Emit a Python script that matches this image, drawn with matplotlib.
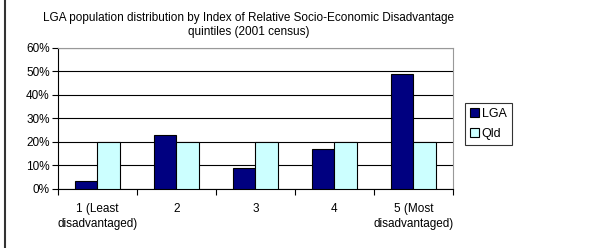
import numpy as np
import matplotlib.pyplot as plt
from matplotlib.lines import Line2D
from matplotlib.ticker import PercentFormatter

plt.rcParams['font.family'] = ['Liberation Sans', 'DejaVu Sans']

# data
categories = ['1 (Least\ndisadvantaged)', '2', '3', '4', '5 (Most\ndisadvantaged)']
lga = [3.2, 23.0, 8.7, 17.0, 49.0]
qld = [20.0, 20.0, 20.0, 20.0, 20.0]

fig = plt.figure(figsize=(6.04, 2.48), dpi=100)
ax = fig.add_axes([0.096, 0.238, 0.654, 0.570])

x = np.arange(len(categories))
w = 0.29
ax.bar(x - w / 2, lga, w, color='#000080', edgecolor='black', linewidth=0.8, label='LGA', zorder=3)
ax.bar(x + w / 2, qld, w, color='#ccffff', edgecolor='black', linewidth=0.8, label='Qld', zorder=3)

ax.set_xlim(-0.5, len(categories) - 0.5)
ax.set_ylim(0, 60)
ax.set_yticks(range(0, 61, 10))
ax.yaxis.set_major_formatter(PercentFormatter(decimals=0))
ax.grid(axis='y', color='black', linewidth=0.8, zorder=0)

ax.set_xticks(x)
ax.set_xticklabels(categories, fontsize=8.5, linespacing=1.35)
ax.set_xticks(np.arange(-0.5, len(categories)), minor=True)
ax.tick_params(axis='x', which='major', length=0, pad=10)
ax.tick_params(axis='x', which='minor', length=4, direction='out', width=0.8)
ax.tick_params(axis='y', labelsize=8.5, length=4, width=0.8, pad=2)

for s in ['top', 'right']:
    ax.spines[s].set_color('#999999')
for s in ['left', 'bottom']:
    ax.spines[s].set_color('black')
    ax.spines[s].set_linewidth(0.8)

fig.text(0.412, 0.899, 'LGA population distribution by Index of Relative Socio-Economic Disadvantage\nquintiles (2001 census)',
         ha='center', va='center', fontsize=8.5, linespacing=1.25)

leg = ax.legend(loc='center left', bbox_to_anchor=(1.03, 0.46), fontsize=9, frameon=True,
                fancybox=False, edgecolor='black', handlelength=0.7, handleheight=0.7,
                handletextpad=0.2, borderpad=0.45, labelspacing=0.6, borderaxespad=0)
leg.get_frame().set_linewidth(0.8)

fig.add_artist(Line2D([5 / 604, 5 / 604], [0, 1], color='#333333', linewidth=1.5))

fig.savefig('out.png', dpi=100)
